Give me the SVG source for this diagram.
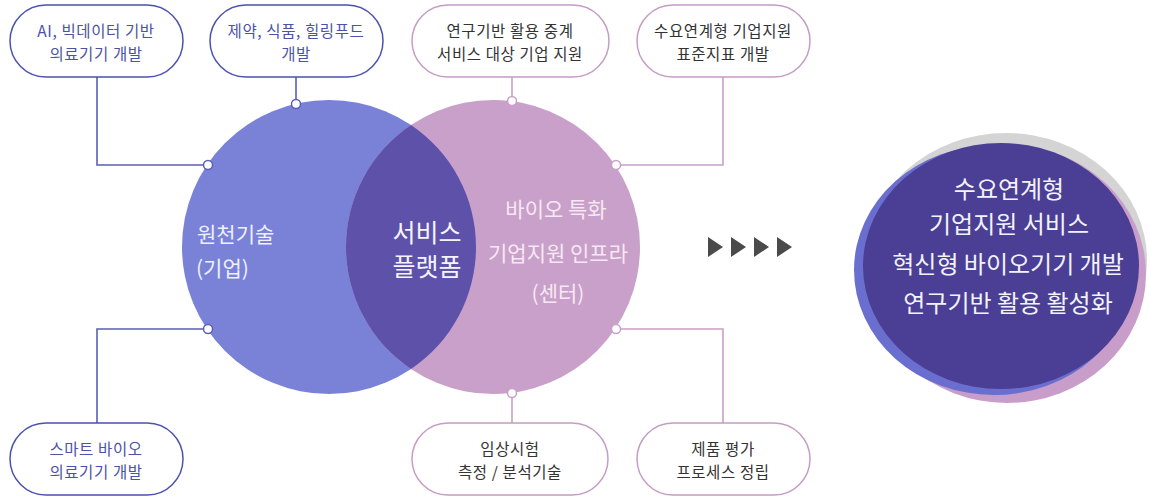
<svg xmlns="http://www.w3.org/2000/svg" width="1149" height="497" viewBox="0 0 1149 497">
<style>
text{font-family:"Noto Sans CJK KR","Noto Sans",sans-serif;text-anchor:middle;dominant-baseline:central}
.pl{fill:#fff;stroke:#4b51ad;stroke-width:1.5}
.pr{fill:#fff;stroke:#c49cc4;stroke-width:1.5}
.tl{font-size:15.5px;letter-spacing:0.6px;fill:#4b52a8}
.tr{font-size:15.5px;letter-spacing:0.6px;fill:#333}
.cl{fill:none;stroke:#5a5fb8;stroke-width:1.6}
.cr{fill:none;stroke:#c8a0c8;stroke-width:1.6}
.dl{fill:#fff;stroke:#5a5fb8;stroke-width:1.5}
.dr{fill:#fff;stroke:#c8a0c8;stroke-width:1.5}
.ct{font-size:21px;fill:#eef0fb;text-anchor:start}
.rt{font-size:21px;fill:#f6e8f4}
.bt{font-size:24px;fill:#f2f2fa}
.mt{font-size:25px;fill:#f4f4fc}
</style>
<rect width="1149" height="497" fill="#fff"/>
<g id="venn">
<circle cx="329" cy="247" r="147" fill="#7a82d8"/>
<circle cx="493" cy="247" r="147" fill="#c9a0c9"/>
<path d="M411,125 A147,147 0 0,1 411,369 A147,147 0 0,1 411,125 Z" fill="#5d51aa"/>
</g>
<g id="left-circle"><text class="ct" x="197" y="233">원천기술</text><text class="ct" x="196" y="267">(기업)</text></g>
<g id="center"><text class="mt" x="427" y="231">서비스</text><text class="mt" x="427" y="265">플랫폼</text></g>
<g id="right-circle"><text class="rt" x="556" y="208">바이오 특화</text><text class="rt" x="558" y="252">기업지원 인프라</text><text class="rt" x="558" y="292">(센터)</text></g>
<g id="connectors">
<polyline class="cl" points="208,165 97,165 97,77"/>
<polyline class="cl" points="296,104 296,77"/>
<polyline class="cl" points="208,329 97,329 97,423"/>
<polyline class="cr" points="512,101 512,77"/>
<polyline class="cr" points="616,165 723,165 723,77"/>
<polyline class="cr" points="616,329 723,329 723,423"/>
<polyline class="cr" points="512,393 512,423"/>
<circle class="dl" cx="208" cy="165" r="4.5"/>
<circle class="dl" cx="296" cy="104" r="4.5"/>
<circle class="dl" cx="208" cy="329" r="4.5"/>
<circle class="dr" cx="512" cy="101" r="4.5"/>
<circle class="dr" cx="616" cy="165" r="4.5"/>
<circle class="dr" cx="616" cy="329" r="4.5"/>
<circle class="dr" cx="512" cy="393" r="4.5"/>
</g>
<g id="n1"><rect class="pl" x="10" y="5" width="173" height="72" rx="36"/><text class="tl" x="96" y="30">AI, 빅데이터 기반</text><text class="tl" x="96" y="53">의료기기 개발</text></g>
<g id="n2"><rect class="pl" x="210" y="5" width="173" height="72" rx="36"/><text class="tl" x="296" y="30">제약, 식품, 힐링푸드</text><text class="tl" x="296" y="53">개발</text></g>
<g id="n3"><rect class="pr" x="412" y="5" width="197" height="72" rx="36"/><text class="tr" x="510" y="30">연구기반 활용 중계</text><text class="tr" x="510" y="53">서비스 대상 기업 지원</text></g>
<g id="n4"><rect class="pr" x="637" y="5" width="173" height="72" rx="36"/><text class="tr" x="723" y="30">수요연계형 기업지원</text><text class="tr" x="723" y="53">표준지표 개발</text></g>
<g id="n5"><rect class="pl" x="10" y="423" width="173" height="72" rx="36"/><text class="tl" x="96" y="448">스마트 바이오</text><text class="tl" x="96" y="471">의료기기 개발</text></g>
<g id="n6"><rect class="pr" x="412" y="423" width="196" height="72" rx="36"/><text class="tr" x="510" y="448">임상시험</text><text class="tr" x="510" y="471">측정 / 분석기술</text></g>
<g id="n7"><rect class="pr" x="637" y="423" width="173" height="72" rx="36"/><text class="tr" x="723" y="448">제품 평가</text><text class="tr" x="723" y="471">프로세스 정립</text></g>
<g id="arrows" fill="#4a4a4a">
<polygon points="708,237 723,247 708,257"/>
<polygon points="731,237 746,247 731,257"/>
<polygon points="754,237 769,247 754,257"/>
<polygon points="777,237 792,247 777,257"/>
</g>
<g id="result">
<ellipse cx="1006" cy="260" rx="141" ry="127" fill="#d4d4d4"/>
<ellipse cx="1007" cy="274" rx="139" ry="129" fill="#c99dc9"/>
<ellipse cx="994" cy="270" rx="140" ry="125" fill="#6a6fcf"/>
<ellipse cx="1001" cy="266" rx="138" ry="123" fill="#4a3f94"/>
<text class="bt" x="1009" y="187">수요연계형</text>
<text class="bt" x="1009" y="222">기업지원 서비스</text>
<text class="bt" x="1008" y="262">혁신형 바이오기기 개발</text>
<text class="bt" x="1008" y="301">연구기반 활용 활성화</text>
</g>
</svg>
